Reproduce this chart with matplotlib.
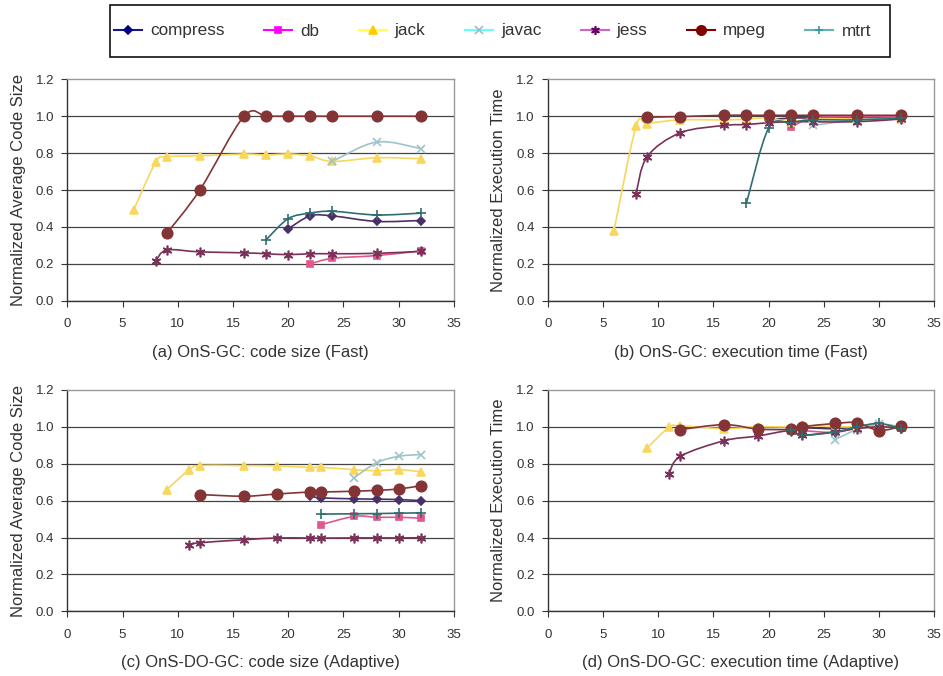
import matplotlib
matplotlib.use("Agg")
import matplotlib.pyplot as plt
import numpy as np
from matplotlib.path import Path
from matplotlib.patches import PathPatch, Rectangle
from matplotlib.lines import Line2D

# benchmarks in drawing order
names = ["compress", "db", "jack", "javac", "jess", "mpeg", "mtrt"]

# (a) OnS-GC: code size (Fast)
size_fast_x = {
    "compress": [20, 22, 24, 28, 32],
    "db": [22, 24, 28, 32],
    "jack": [6, 8, 9, 12, 16, 18, 20, 22, 24, 28, 32],
    "javac": [24, 28, 32],
    "jess": [8, 9, 12, 16, 18, 20, 22, 24, 28, 32],
    "mpeg": [9, 12, 16, 18, 20, 22, 24, 28, 32],
    "mtrt": [18, 20, 22, 24, 28, 32],
}
size_fast_y = {
    "compress": [0.39, 0.46, 0.46, 0.43, 0.435],
    "db": [0.20, 0.23, 0.245, 0.27],
    "jack": [0.49, 0.75, 0.78, 0.785, 0.795, 0.79, 0.795, 0.785, 0.755, 0.775, 0.77],
    "javac": [0.755, 0.86, 0.825],
    "jess": [0.215, 0.275, 0.265, 0.26, 0.255, 0.25, 0.255, 0.255, 0.257, 0.268],
    "mpeg": [0.365, 0.60, 1.0, 1.0, 1.0, 1.0, 1.0, 1.0, 1.0],
    "mtrt": [0.33, 0.445, 0.475, 0.485, 0.465, 0.475],
}

# (b) OnS-GC: execution time (Fast)
time_fast_x = size_fast_x
time_fast_y = {
    "compress": [0.98, 0.99, 0.99, 0.99, 0.99],
    "db": [0.94, 0.99, 1.0, 1.0],
    "jack": [0.38, 0.945, 0.96, 0.98, 0.98, 0.985, 0.99, 0.97, 0.985, 0.985, 0.985],
    "javac": [0.95, 0.98, 0.99],
    "jess": [0.58, 0.78, 0.91, 0.95, 0.955, 0.965, 0.97, 0.97, 0.97, 0.985],
    "mpeg": [0.995, 0.998, 1.005, 1.005, 1.005, 1.005, 1.005, 1.005, 1.005],
    "mtrt": [0.53, 0.935, 0.965, 0.98, 0.98, 0.99],
}

# (c) OnS-DO-GC: code size (Adaptive)
size_adapt_x = {
    "compress": [22, 23, 26, 28, 30, 32],
    "db": [23, 26, 28, 30, 32],
    "jack": [9, 11, 12, 16, 19, 22, 23, 26, 28, 30, 32],
    "javac": [26, 28, 30, 32],
    "jess": [11, 12, 16, 19, 22, 23, 26, 28, 30, 32],
    "mpeg": [12, 16, 19, 22, 23, 26, 28, 30, 32],
    "mtrt": [23, 26, 28, 30, 32],
}
size_adapt_y = {
    "compress": [0.625, 0.615, 0.61, 0.608, 0.606, 0.60],
    "db": [0.47, 0.515, 0.51, 0.51, 0.505],
    "jack": [0.66, 0.765, 0.79, 0.79, 0.788, 0.78, 0.78, 0.768, 0.762, 0.768, 0.757],
    "javac": [0.725, 0.805, 0.84, 0.85],
    "jess": [0.36, 0.372, 0.388, 0.398, 0.397, 0.397, 0.398, 0.398, 0.398, 0.399],
    "mpeg": [0.633, 0.624, 0.636, 0.647, 0.647, 0.651, 0.656, 0.663, 0.681],
    "mtrt": [0.527, 0.529, 0.53, 0.532, 0.534],
}

# (d) OnS-DO-GC: execution time (Adaptive)
time_adapt_x = {
    "compress": [22, 23, 26, 28, 30, 32],
    "db": [22, 23, 26, 28, 30, 32],
    "jack": [9, 11, 12, 16, 19, 22, 23, 26, 28, 30, 32],
    "javac": [26, 28, 30, 32],
    "jess": [11, 12, 16, 19, 22, 23, 26, 28, 30, 32],
    "mpeg": [12, 16, 19, 22, 23, 26, 28, 30, 32],
    "mtrt": [22, 23, 26, 28, 30, 32],
}
time_adapt_y = {
    "compress": [0.99, 0.995, 0.99, 1.0, 1.0, 0.995],
    "db": [0.985, 0.98, 0.97, 0.995, 1.0, 0.995],
    "jack": [0.885, 0.998, 1.005, 0.99, 1.0, 1.0, 1.008, 1.0, 1.0, 1.0, 1.0],
    "javac": [0.93, 0.985, 1.015, 1.0],
    "jess": [0.745, 0.84, 0.925, 0.95, 0.98, 0.955, 0.972, 0.99, 1.0, 0.995],
    "mpeg": [0.985, 1.012, 0.988, 0.986, 1.0, 1.018, 1.022, 0.98, 1.003],
    "mtrt": [0.985, 0.955, 0.972, 1.0, 1.018, 0.99],
}

captions = ["(a) OnS-GC: code size (Fast)", "(b) OnS-GC: execution time (Fast)",
            "(c) OnS-DO-GC: code size (Adaptive)", "(d) OnS-DO-GC: execution time (Adaptive)"]
ylabels = ["Normalized Average Code Size", "Normalized Execution Time"]

# colours as they appear in the plots (muted) and in the legend (bright)
line_col = {"compress": "#4a3068", "db": "#e0588c", "jack": "#f8d75e", "javac": "#9dc4c9",
            "jess": "#7a3058", "mpeg": "#843434", "mtrt": "#2f6e70"}
leg_line = {"compress": "#1a1a80", "db": "#ff00ff", "jack": "#ffff55", "javac": "#66ffff",
            "jess": "#cc66cc", "mpeg": "#800000", "mtrt": "#66b3b3"}
leg_mark = {"compress": "#000080", "db": "#ff00ff", "jack": "#ffcc00", "javac": "#99bbcc",
            "jess": "#660066", "mpeg": "#800000", "mtrt": "#339999"}
markers = {"compress": "D", "db": "s", "jack": "^", "javac": "x",
           "jess": (6, 2, 0), "mpeg": "o", "mtrt": "+"}
msizes = {"compress": 4.5, "db": 5, "jack": 6, "javac": 6, "jess": 7, "mpeg": 7.5, "mtrt": 7}

plt.rcParams["font.family"] = ["Liberation Sans", "DejaVu Sans"]
TXT = "#333333"


# Excel-like smoothed line (Bezier through the points)
def smooth_path(x, y):
    pts = np.column_stack([x, y]).astype(float)
    n = len(pts)
    verts = [pts[0]]
    codes = [Path.MOVETO]
    for i in range(n - 1):
        p0 = pts[i - 1] if i > 0 else pts[i]
        p1 = pts[i]
        p2 = pts[i + 1]
        p3 = pts[i + 2] if i + 2 < n else pts[i + 1]
        verts += [p1 + (p2 - p0) / 6, p2 - (p3 - p1) / 6, p2]
        codes += [Path.CURVE4] * 3
    return Path(verts, codes)


W, H = 943, 676
fig = plt.figure(figsize=(W / 100, H / 100), dpi=100)

rects = [(67.3, 79.3), (547.7, 79.3), (67.3, 389.9), (547.7, 389.9)]
data = [(size_fast_x, size_fast_y), (time_fast_x, time_fast_y),
        (size_adapt_x, size_adapt_y), (time_adapt_x, time_adapt_y)]
cap_y = [352, 352, 662, 662]

for k, ((lx, ty), (dx, dy)) in enumerate(zip(rects, data)):
    aw, ah = 386.5, 221.5
    ax = fig.add_axes([lx / W, 1 - (ty + ah) / H, aw / W, ah / H])
    ax.set_xlim(0, 35)
    ax.set_ylim(0, 1.2)
    ax.set_xticks(np.arange(0, 36, 5))
    ax.set_yticks(np.arange(0, 1.21, 0.2))
    ax.yaxis.set_major_formatter(plt.FormatStrFormatter("%.1f"))
    ax.grid(axis="y", color="#444444", lw=0.9)
    # top gridline is the light plot-area border instead
    ax.get_ygridlines()[-1].set_visible(False)
    ax.set_axisbelow(True)
    for s in ["left", "bottom"]:
        ax.spines[s].set_color("#333333")
        ax.spines[s].set_linewidth(1.0)
    for s in ["top", "right"]:
        ax.spines[s].set_color("#999999")
        ax.spines[s].set_linewidth(1.0)
    ax.tick_params(direction="out", length=4, color="#333333", labelsize=9.5,
                   labelcolor=TXT)
    ax.tick_params(axis="x", pad=8.5)
    ax.tick_params(axis="y", pad=5.5)

    for nm in names:
        x = dx[nm]
        y = dy[nm]
        ax.add_patch(PathPatch(smooth_path(x, y), fill=False, edgecolor=line_col[nm],
                               lw=1.2, zorder=3))
        ax.plot(x, y, ls="none", marker=markers[nm], ms=msizes[nm],
                color=line_col[nm], mec=line_col[nm], mew=1.2, zorder=4)

    ax.set_ylabel(ylabels[k % 2], fontsize=12, color=TXT)
    ax.yaxis.set_label_coords(-0.108, 0.5)
    fig.text((lx + aw / 2) / W, 1 - cap_y[k] / H, captions[k], ha="center",
             va="center", fontsize=12, color=TXT)

# legend across the top
handles = [Line2D([], [], color=leg_line[nm], lw=1.5, marker=markers[nm], ms=msizes[nm] * 0.9,
                  mfc=leg_mark[nm], mec=leg_mark[nm], mew=1.2) for nm in names]
fig.legend(handles, names, loc="center left", bbox_to_anchor=(114 / W, 1 - 31 / H),
           ncol=7, frameon=False, fontsize=12.3, handlelength=1.65, handletextpad=0.47,
           columnspacing=2.3, borderpad=0, borderaxespad=0, labelcolor=TXT)
fig.add_artist(Rectangle((110 / W, 1 - 57 / H), 780 / W, 52 / H, transform=fig.transFigure,
                         fill=False, ec="#111111", lw=1.2))

fig.savefig("out.png", dpi=100)
